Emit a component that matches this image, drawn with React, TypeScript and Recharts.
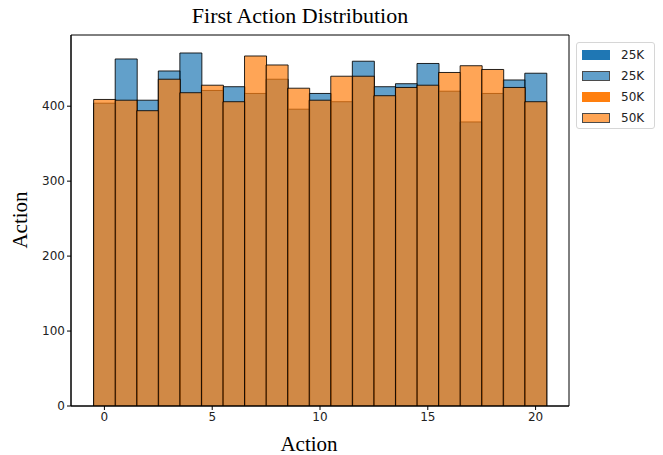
import React from 'react';
import {
  ComposedChart,
  Bar,
  XAxis,
  YAxis,
  Legend,
  ReferenceArea,
} from 'recharts';

const actions = [0, 1, 2, 3, 4, 5, 6, 7, 8, 9, 10, 11, 12, 13, 14, 15, 16, 17, 18, 19, 20];
const counts25k = [404, 463, 408, 447, 471, 421, 426, 417, 436, 396, 417, 406, 460, 426, 430, 457, 420, 379, 417, 435, 444];
const counts50k = [409, 408, 394, 436, 418, 428, 406, 467, 455, 424, 408, 440, 440, 414, 425, 428, 445, 454, 449, 425, 406];
const xTicks = [0, 5, 10, 15, 20];
const yTicks = [0, 100, 200, 300, 400];

const data = actions.map((a, i) => ({ action: a, k25: counts25k[i], k50: counts50k[i] }));

const X_DOMAIN: [number, number] = [-1.55, 21.55];
const Y_DOMAIN: [number, number] = [0, 495];

const BLUE = '#1f77b4';
const ORANGE = '#ff7f0e';
const ALPHA = 0.7;

const legendItems = [
  { label: '25K', color: BLUE, edge: false },
  { label: '25K', color: BLUE, edge: true },
  { label: '50K', color: ORANGE, edge: false },
  { label: '50K', color: ORANGE, edge: true },
];

const tickStyle = { fontSize: 12, fill: '#222', fontFamily: 'DejaVu Sans' };
const serif = 'Liberation Serif';

function LegendBox() {
  return (
    <div
      style={{
        width: 77,
        border: '1px solid #d6d6d6',
        borderRadius: 3,
        background: '#fff',
        padding: '1px 0 0 0',
        fontFamily: 'DejaVu Sans',
        fontSize: 12,
        color: '#222',
      }}
    >
      {legendItems.map((it, i) => (
        <div key={i} style={{ display: 'flex', alignItems: 'center', height: 21, paddingLeft: 5 }}>
          <span
            style={{
              display: 'inline-block',
              width: 28,
              height: 10,
              boxSizing: 'border-box',
              background: it.color,
              opacity: it.edge ? ALPHA : 1,
              border: it.edge ? '1px solid #000' : 'none',
            }}
          />
          <span style={{ marginLeft: 11 }}>{it.label}</span>
        </div>
      ))}
    </div>
  );
}

export default function App() {
  return (
    <div style={{ position: 'absolute', left: 0, top: 0, width: 663, height: 455, background: '#fff' }}>
      <ComposedChart
        width={663}
        height={455}
        data={data}
        margin={{ top: 35, right: 94, left: 0, bottom: 0 }}
        barCategoryGap={0}
        barGap={0}
      >
        <text x={300} y={23} textAnchor="middle" fontFamily={serif} fontSize={22} fill="#000">
          First Action Distribution
        </text>
        <text x={309} y={451} textAnchor="middle" fontFamily={serif} fontSize={21} fill="#000">
          Action
        </text>
        <text
          x={0}
          y={0}
          transform="translate(27,220) rotate(-90)"
          textAnchor="middle"
          fontFamily={serif}
          fontSize={21}
          fill="#000"
        >
          Action
        </text>
        <XAxis
          xAxisId="b"
          dataKey="action"
          type="number"
          domain={X_DOMAIN}
          ticks={xTicks}
          allowDataOverflow
          height={49}
          tick={tickStyle}
          tickSize={4}
          tickMargin={2}
          stroke="#000"
        />
        <XAxis
          xAxisId="t"
          dataKey="action"
          type="number"
          orientation="top"
          domain={X_DOMAIN}
          allowDataOverflow
          hide
        />
        <YAxis
          yAxisId="l"
          domain={Y_DOMAIN}
          ticks={yTicks}
          allowDataOverflow
          width={71}
          tick={tickStyle}
          tickSize={4}
          tickMargin={2}
          stroke="#000"
        />
        <Bar
          dataKey="k25"
          xAxisId="b"
          yAxisId="l"
          fill={BLUE}
          fillOpacity={ALPHA}
          stroke="#000"
          strokeOpacity={0.85}
          strokeWidth={1}
          isAnimationActive={false}
        />
        <Bar
          dataKey="k50"
          xAxisId="t"
          yAxisId="l"
          fill={ORANGE}
          fillOpacity={ALPHA}
          stroke="#000"
          strokeOpacity={0.85}
          strokeWidth={1}
          isAnimationActive={false}
        />
        <ReferenceArea
          xAxisId="b"
          yAxisId="l"
          x1={X_DOMAIN[0]}
          x2={X_DOMAIN[1]}
          y1={Y_DOMAIN[0]}
          y2={Y_DOMAIN[1]}
          fill="none"
          fillOpacity={0}
          stroke="#000"
          strokeWidth={1}
          ifOverflow="visible"
        />
        <Legend
          layout="horizontal"
          verticalAlign="middle"
          align="center"
          content={() => <LegendBox />}
          wrapperStyle={{ position: 'absolute', left: 576, top: 42, width: 79 }}
        />
      </ComposedChart>
    </div>
  );
}
